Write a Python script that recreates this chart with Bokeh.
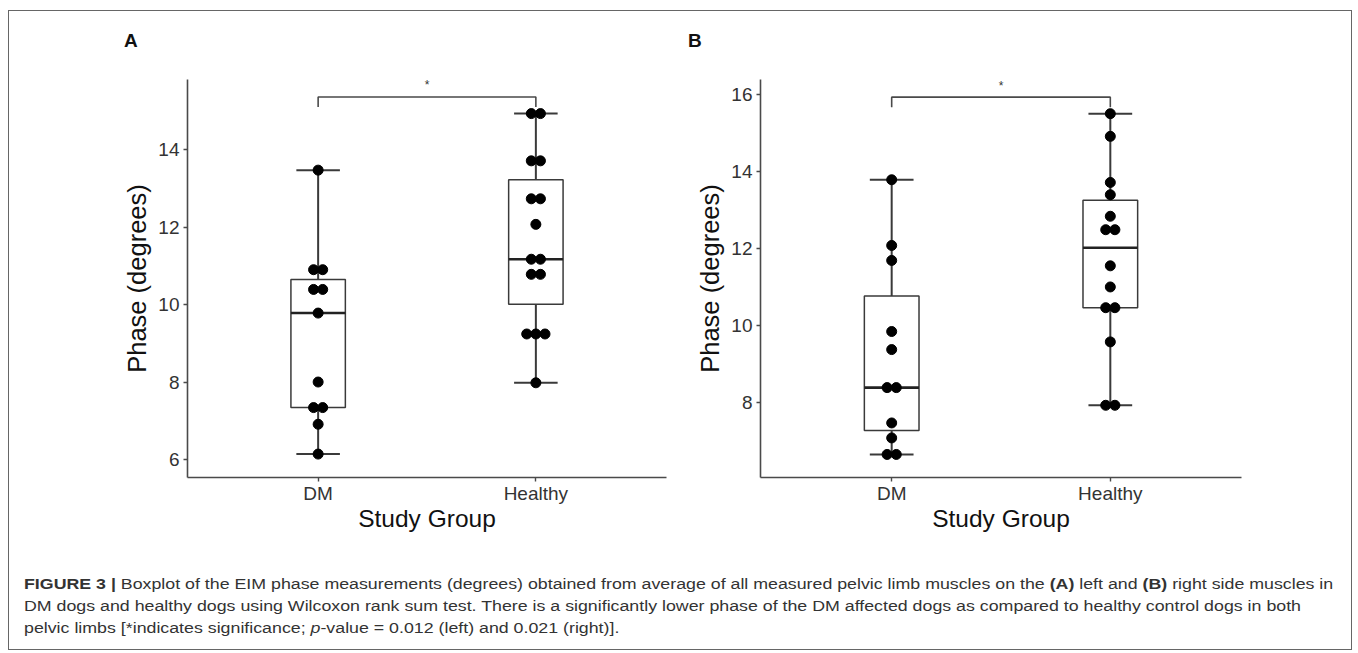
import numpy as np
from bokeh.plotting import figure
from bokeh.models import Range1d, Div
from bokeh.layouts import row, column
from bokeh.embed import file_html
from bokeh.resources import INLINE
from bokeh.core.properties import value

# ---------------- data ----------------
groups = ["DM", "Healthy"]
left_dm = [13.47, 10.9, 10.9, 10.39, 10.39, 9.78, 8.0, 7.34, 7.34, 6.91, 6.14]
left_healthy = [14.93, 14.93, 13.71, 13.71, 12.73, 12.73, 12.07, 11.17, 11.17,
                10.78, 10.78, 9.24, 9.24, 9.24, 7.98]
right_dm = [13.79, 12.08, 11.69, 9.84, 9.37, 8.38, 8.38, 7.46, 7.07, 6.64, 6.64]
right_healthy = [15.51, 14.92, 13.72, 13.40, 12.84, 12.49, 12.49, 11.55, 11.0,
                 10.46, 10.46, 9.57, 7.92, 7.92]
left_ticks = [6, 8, 10, 12, 14]
right_ticks = [8, 10, 12, 14, 16]
sig_label = "*"
panel_letters = ["A", "B"]
y_title = "Phase (degrees)"
x_title = "Study Group"

FONT = "Liberation Sans"
LINE = "#3a3a3a"


def box_stats(vals):
    v = np.sort(np.asarray(vals, dtype=float))
    q1, med, q3 = np.percentile(v, [25, 50, 75])
    iqr = q3 - q1
    lo = v[v >= q1 - 1.5 * iqr].min()
    hi = v[v <= q3 + 1.5 * iqr].max()
    return q1, med, q3, lo, hi


def dot_positions(vals, xc, spacing):
    xs, ys = [], []
    uniq = {}
    for v in vals:
        uniq[v] = uniq.get(v, 0) + 1
    for v, n in uniq.items():
        for i in range(n):
            xs.append(xc + (i - (n - 1) / 2) * spacing)
            ys.append(v)
    return xs, ys


def make_panel(dm, healthy, ticks, y0, y1, width, mb_left, mb_right):
    p = figure(width=width, height=495, output_backend="svg",
               toolbar_location=None, x_range=Range1d(0.4, 2.6),
               y_range=Range1d(y0, y1), min_border_left=mb_left,
               min_border_right=mb_right, min_border_top=23,
               min_border_bottom=74)

    p.grid.visible = False
    p.outline_line_color = None
    p.background_fill_color = "white"
    p.border_fill_color = "white"

    p.xaxis.ticker = [1, 2]
    p.xaxis.major_label_overrides = {1: groups[0], 2: groups[1]}
    p.yaxis.ticker = ticks
    for ax in (p.xaxis, p.yaxis):
        ax.axis_line_color = "#4a4a4a"
        ax.axis_line_width = 1.6
        ax.major_tick_line_color = "#4a4a4a"
        ax.major_tick_line_width = 1.4
        ax.major_tick_out = 4
        ax.major_tick_in = 0
        ax.minor_tick_line_color = None
        ax.major_label_text_font = FONT
        ax.major_label_text_font_size = "19px"
        ax.major_label_text_color = "#333333"
        ax.axis_label_text_font = FONT
        ax.axis_label_text_font_style = "normal"
        ax.axis_label_text_color = "#111111"
    p.xaxis.axis_label_text_font_size = "24.5px"
    p.yaxis.axis_label_text_font_size = "25.5px"
    p.xaxis.axis_label = x_title
    p.yaxis.axis_label = y_title
    p.xaxis.major_label_standoff = 1
    p.yaxis.major_label_standoff = 4
    p.xaxis.axis_label_standoff = -2
    p.yaxis.axis_label_standoff = 4

    spacing = 0.042
    for xc, vals in ((1, dm), (2, healthy)):
        q1, med, q3, lo, hi = box_stats(vals)
        p.segment(x0=[xc], y0=[lo], x1=[xc], y1=[hi], line_color=LINE,
                  line_width=2)
        p.segment(x0=[xc - 0.1, xc - 0.1], y0=[lo, hi], x1=[xc + 0.1, xc + 0.1],
                  y1=[lo, hi], line_color=LINE, line_width=2)
        p.quad(left=[xc - 0.125], right=[xc + 0.125], bottom=[q1], top=[q3],
               fill_color="white", line_color=LINE, line_width=1.5)
        p.segment(x0=[xc - 0.125], y0=[med], x1=[xc + 0.125], y1=[med],
                  line_color="#222222", line_width=2.6)
        xs, ys = dot_positions(vals, xc, spacing)
        p.scatter(xs, ys, size=10, fill_color="black", line_color="black")

    top = max(max(dm), max(healthy))
    by = top + 0.43
    drop = top + 0.17
    p.line([1, 1, 2, 2], [drop, by, by, drop], line_color="#4a4a4a",
           line_width=1.6)
    p.text(x=[1.5], y=[by + 0.3], text=[sig_label], text_align="center",
           text_baseline="alphabetic", text_font=value(FONT),
           text_font_size="12px", text_color="#333333")
    return p


pA = make_panel(left_dm, left_healthy, left_ticks, 5.535, 15.81, 670, 178, 13)
pB = make_panel(right_dm, right_healthy, right_ticks, 6.04, 16.40, 672, 81, 110)


def letter_div(letter, width, pad_left):
    return Div(text=('<div style="font-family:\'Liberation Sans\', Arial, sans-serif; '
                     'font-size:19px; font-weight:bold; line-height:19px; color:#111; '
                     f'padding:20px 0 0 {pad_left}px;">{letter}</div>'),
               width=width, height=45, margin=(0, 0, 0, 0))


lA = letter_div(panel_letters[0], 670, 115)
lB = letter_div(panel_letters[1], 672, 9)

caption_html = (
    '<div style="font-family:\'Liberation Sans\', Arial, sans-serif; '
    'font-size:15.4px; line-height:22px; color:#333; padding:22px 0 0 13px; '
    'white-space:nowrap; transform:scaleX(1.155); transform-origin:0 0;">'
    '<b>FIGURE 3 |</b> Boxplot of the EIM phase measurements (degrees) obtained '
    'from average of all measured pelvic limb muscles on the <b>(A)</b> left and '
    '<b>(B)</b> right side muscles in<br>'
    'DM dogs and healthy dogs using Wilcoxon rank sum test. There is a '
    'significantly lower phase of the DM affected dogs as compared to healthy '
    'control dogs in both<br>'
    'pelvic limbs [*indicates significance; <i>p</i>-value = 0.012 (left) and '
    '0.021 (right)].</div>'
)
cap = Div(text=caption_html, width=1342, height=98, margin=(0, 0, 0, 0))

layout = column(row(lA, lB), row(pA, pB), cap,
                styles={"border": "1px solid #666666", "margin-left": "8px",
                        "margin-top": "10px", "background": "white"})

html = file_html(layout, INLINE)
html = html.replace("<head>", "<head><style>body{margin:0;background:white;}</style>", 1)
open("out.html", "w").write(html)
